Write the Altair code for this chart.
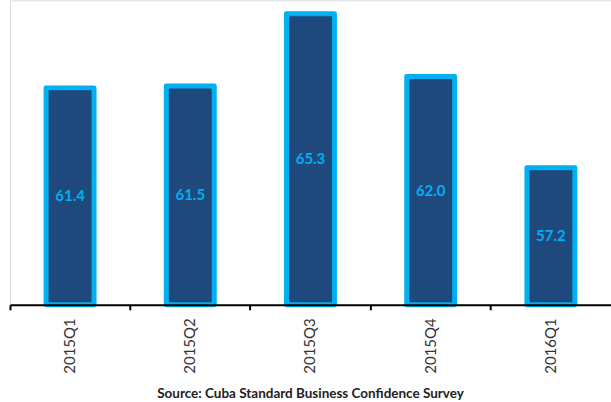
import altair as alt
import pandas as pd

quarters = ["2015Q1", "2015Q2", "2015Q3", "2015Q4", "2016Q1"]
values = [61.4, 61.5, 65.3, 62.0, 57.2]
labels = ["61.4", "61.5", "65.3", "62.0", "57.2"]

df = pd.DataFrame({"q": quarters, "v": values, "lab": labels})

x = alt.X("q:N", sort=quarters, title=None,
          scale=alt.Scale(paddingInner=0, paddingOuter=0),
          axis=alt.Axis(labelAngle=-90, labelAlign="right", labelBaseline="middle",
                        labelFont="Lato", labelFontSize=15, labelColor="#333333",
                        labelPadding=8, tickSize=5, tickWidth=2, tickColor="#000000",
                        domainColor="#000000", domainWidth=2, bandPosition=0,
                        zindex=1, grid=False))
y = alt.Y("v:Q", scale=alt.Scale(domain=[50, 66], nice=False, zero=False), axis=None)

base = alt.Chart(df)
bars = base.mark_bar(size=48, color="#1F497D", stroke="#00B0F0", strokeWidth=5,
                     strokeJoin="round").encode(x=x, y=y, y2=alt.datum(50))
text = base.transform_calculate(mid="(datum.v + 50) / 2").mark_text(
    font="Lato", fontSize=15, fontWeight="bold", color="#00B0F0",
    align="center", baseline="middle").encode(
    x=alt.X("q:N", sort=quarters), y=alt.Y("mid:Q", scale=alt.Scale(domain=[50, 66], nice=False, zero=False)),
    text="lab:N")

chart = alt.layer(bars, text).properties(
    width=602, height=305,
    padding={"left": 9, "top": 0, "right": 0, "bottom": 0},
    title=alt.TitleParams("Source: Cuba Standard Business Confidence Survey",
                          orient="bottom", anchor="middle", font="Lato",
                          fontSize=13.5, fontWeight="bold", color="#222222", offset=14),
).configure_view(stroke=None).configure(background="white")

chart.save("out.html", embed_options={"renderer": "svg", "actions": False})
